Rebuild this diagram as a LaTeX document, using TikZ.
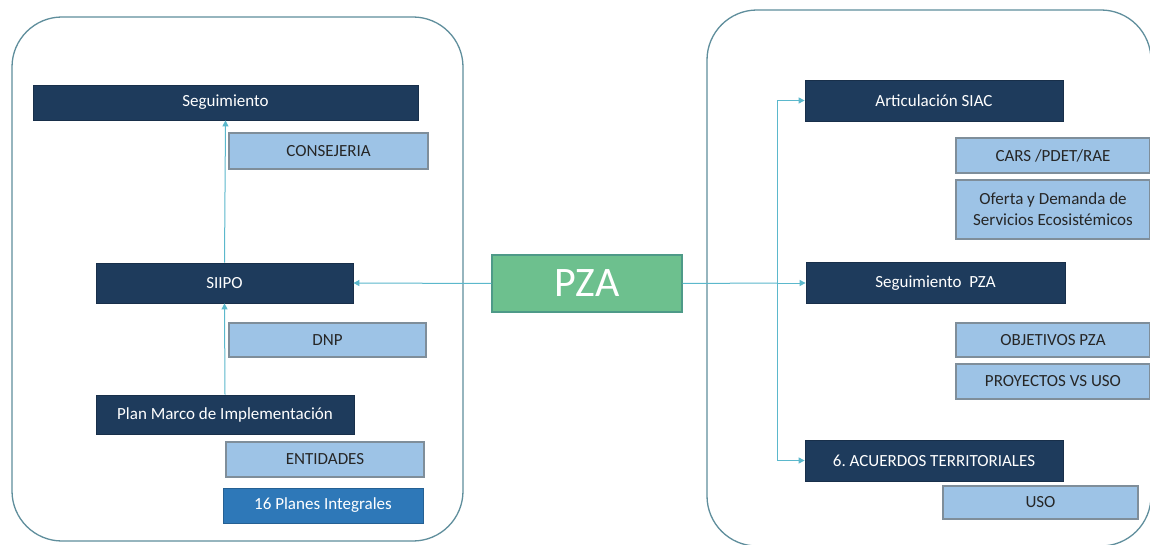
\documentclass[tikz,border=0pt]{standalone}
\usepackage{fontspec}
\setmainfont{Carlito}
\frenchspacing
\usetikzlibrary{arrows.meta}
\definecolor{navy}{HTML}{1E3B5C}
\definecolor{lightb}{HTML}{9DC3E6}
\definecolor{lightbd}{HTML}{7F8E9A}
\definecolor{midb}{HTML}{2E78B8}
\definecolor{pzag}{HTML}{6DC08E}
\definecolor{pzabd}{HTML}{4E9A88}
\definecolor{panelc}{HTML}{5F8E9C}
\definecolor{arrc}{HTML}{5BB8CC}
\tikzset{
  darkbox/.style={fill=navy, draw=navy!80!black, line width=0.8pt, text=white, inner sep=0pt, font=\fontsize{17}{20.5}\selectfont},
  lightbox/.style={fill=lightb, draw=lightbd, line width=1.2pt, text=black!85, inner sep=0pt, align=center, font=\fontsize{17}{21}\selectfont},
  midbox/.style={fill=midb, draw=midb!80!black, line width=0.8pt, text=white, inner sep=0pt, font=\fontsize{17}{20.5}\selectfont},
  panel/.style={draw=panelc, line width=1.3pt, rounded corners=50pt},
  conn/.style={draw=arrc, line width=1pt},
  arr/.style={conn, -{Triangle[length=6pt,width=6pt]}}
}
\begin{document}
\begin{tikzpicture}[x=1pt,y=-1pt]
\useasboundingbox (0,0) rectangle (1150,545);
\clip (0,0) rectangle (1150,545);
\fill[white] (0,0) rectangle (1150,545);
% panels
\draw[panel] (12,17) rectangle (463,541);
\draw[panel] (707,10) rectangle (1151,546);
% left column
\node[darkbox, minimum width=385pt, minimum height=35pt] (seg) at (225.5,102.5) {Seguimiento};
\node[lightbox, minimum width=199pt, minimum height=36pt] (cons) at (328.5,151) {CONSEJERIA};
\node[darkbox, minimum width=257pt, minimum height=40pt] (siipo) at (224.5,283) {SIIPO};
\node[lightbox, minimum width=197pt, minimum height=34pt] (dnp) at (327.5,340) {DNP};
\node[darkbox, minimum width=258pt, minimum height=39pt] (plan) at (225,414.5) {Plan Marco de Implementación};
\node[lightbox, minimum width=198pt, minimum height=35pt] (ent) at (325,459.5) {ENTIDADES};
\node[midbox, minimum width=200pt, minimum height=35pt] (planes) at (323,505.5) {16 Planes Integrales};
% center
\node[fill=pzag, draw=pzabd, line width=1.2pt, text=white, inner sep=0pt, minimum width=190pt, minimum height=57pt, font=\fontsize{42}{48}\selectfont] (pza) at (587,283.5) {PZA};
% right column
\node[darkbox, minimum width=258pt, minimum height=41pt] (siac) at (934,100.5) {Articulación SIAC};
\node[lightbox, minimum width=194pt, minimum height=35pt] (cars) at (1053,155.5) {CARS /PDET/RAE};
\node[lightbox, minimum width=194pt, minimum height=59pt] (oferta) at (1053,209.5) {Oferta y Demanda de\\Servicios Ecosistémicos};
\node[darkbox, minimum width=259pt, minimum height=41pt] (segpza) at (935.5,283) {Seguimiento\ \ PZA};
\node[lightbox, minimum width=194pt, minimum height=34pt] (obj) at (1053,340) {OBJETIVOS PZA};
\node[lightbox, minimum width=194pt, minimum height=35pt] (proy) at (1053,381.5) {PROYECTOS VS USO};
\node[darkbox, minimum width=258pt, minimum height=41pt] (acu) at (934,460.5) {6. ACUERDOS TERRITORIALES};
\node[lightbox, minimum width=195pt, minimum height=33pt] (uso) at (1040.5,502.5) {USO};
% connectors
\coordinate (j) at (777,283);
\draw[arr] (pza.west) -- (siipo.east);
\draw[conn] (pza.east) -- (j);
\draw[arr] (j) |- (siac.west);
\draw[arr] (j) -- (segpza.west);
\draw[arr] (j) |- (acu.west);
\draw[arr] (plan.north) -- (siipo.south);
\draw[arr] (siipo.north) -- (seg.south);
\end{tikzpicture}
\end{document}
